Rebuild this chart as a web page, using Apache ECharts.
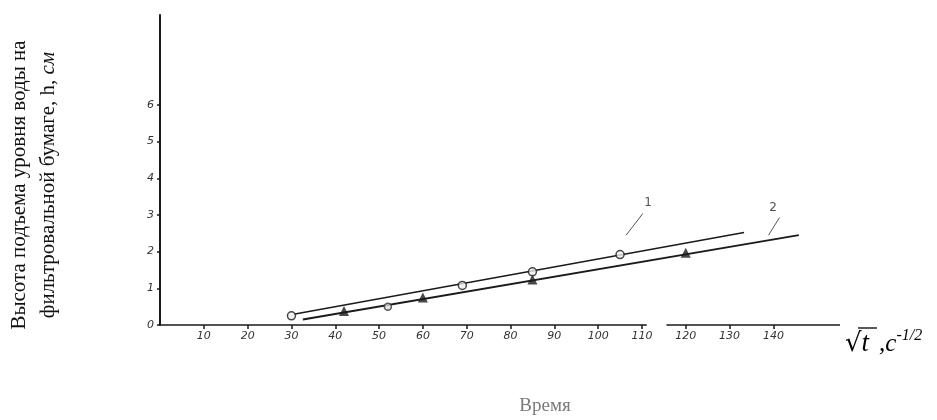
<!DOCTYPE html>
<html>
<head>
<meta charset="utf-8">
<script src="https://cdn.jsdelivr.net/npm/echarts@6/dist/echarts.min.js"></script>
<style>
html,body{margin:0;padding:0;background:#fff;}
#chart{width:937px;height:420px;}
</style>
</head>
<body>
<div id="chart"></div>
<script>
// ---- data ----
const xTickValues = [10,20,30,40,50,60,70,80,90,100,110,120,130,140];
const yTickValues = [0,1,2,3,4,5,6];
// curve 1: open circles
const points1X = [30, 69, 85, 105];
const points1Y = [0.25, 1.08, 1.45, 1.92];
// curve 2: filled triangles (one open circle at 52)
const points2X = [42, 52, 60, 85, 120];
const points2Y = [0.38, 0.50, 0.75, 1.24, 1.97];
const points2Sym = ['triangle','circle','triangle','triangle','triangle'];
// fitted straight lines (ends)
const fit1X = [30.5, 133.3];
const fit1Y = [0.29, 2.52];
const fit2X = [32.6, 145.8];
const fit2Y = [0.15, 2.45];
// curve labels and leader lines
const curveLabels = ['1', '2'];
const labelX = [111.4, 139.9];
const labelY = [3.32, 3.18];
const leaderFromX = [110.2, 141.4];
const leaderFromY = [3.04, 2.93];
const leaderToX = [106.4, 138.9];
const leaderToY = [2.45, 2.45];
// x-axis line segments (gap between 110 and 120)
const axisSegStart = [0, 115.6];
const axisSegEnd = [111.1, 155.2];

const chart = echarts.init(document.getElementById('chart'));
const ink = '#1a1a1a';

const fit1 = fit1X.map((x,i)=>[x, fit1Y[i]]);
const fit2 = fit2X.map((x,i)=>[x, fit2Y[i]]);
const pts1 = points1X.map((x,i)=>[x, points1Y[i]]);
const pts2 = points2X.map((x,i)=>({value:[x, points2Y[i]], symbol: points2Sym[i],
  symbolSize: points2Sym[i]==='circle'?7:10,
  itemStyle: points2Sym[i]==='circle'?{color:'#ddd',borderColor:'#333',borderWidth:1.5}:{color:ink}}));

const leaderLines = curveLabels.map((l,i)=>[
  {coord:[leaderFromX[i], leaderFromY[i]]},
  {coord:[leaderToX[i], leaderToY[i]]}
]);
const axisSegs = axisSegStart.map((s,i)=>[{coord:[s,0]},{coord:[axisSegEnd[i],0]}]);

chart.setOption({
  animation:false,
  backgroundColor:'#fff',
  grid:{left:160, right:97, top:15, bottom:95, containLabel:false},
  xAxis:{
    type:'value', min:0, max:155.2, interval:10,
    axisLine:{show:false},
    axisTick:{show:true, length:4, inside:false, lineStyle:{color:ink,width:1.5},
      customValues: xTickValues},
    axisLabel:{customValues: xTickValues, margin:6, color:'#333',
      fontFamily:'DejaVu Sans', fontStyle:'italic', fontSize:11},
    splitLine:{show:false}
  },
  yAxis:{
    type:'value', min:0, max:8.45, interval:1,
    axisLine:{show:true, lineStyle:{color:ink,width:2}},
    axisTick:{show:true, length:3, lineStyle:{color:ink,width:1.5}, customValues: yTickValues},
    axisLabel:{customValues: yTickValues, margin:6, color:'#333',
      fontFamily:'DejaVu Sans', fontStyle:'italic', fontSize:11},
    splitLine:{show:false}
  },
  series:[
    {type:'line', data:fit1, symbol:'none', lineStyle:{color:ink,width:1.5}, z:2,
     markLine:{silent:true, symbol:'none', label:{show:false},
       lineStyle:{color:ink,width:1.5,type:'solid'}, data:axisSegs}},
    {type:'line', data:fit2, symbol:'none', lineStyle:{color:ink,width:1.8}, z:2,
     markLine:{silent:true, symbol:'none', label:{show:false},
       lineStyle:{color:'#555',width:1,type:'solid'}, data:leaderLines}},
    {type:'scatter', data:pts1, symbol:'circle', symbolSize:8,
     itemStyle:{color:'#eee', borderColor:ink, borderWidth:1.5}, z:3},
    {type:'scatter', data:pts2, z:3},
    {type:'scatter', data:curveLabels.map((l,i)=>({value:[labelX[i],labelY[i]], name:l})),
     symbolSize:0, z:3,
     label:{show:true, position:'inside', formatter:p=>p.name, color:'#222',
       fontFamily:'DejaVu Sans', fontSize:12}}
  ],
  graphic:[
    {type:'text', silent:true, z:10,
     x:34, y:185, rotation:Math.PI/2,
     style:{text:'{n|Высота подъема уровня воды на}\n{n|фильтровальной бумаге, h, }{i|см}',
       rich:{n:{fontFamily:'Liberation Serif', fontSize:21, fill:'#111', lineHeight:29},
             i:{fontFamily:'Liberation Serif', fontSize:21, fontStyle:'italic', fill:'#111', lineHeight:29}},
       align:'center', verticalAlign:'middle'}},
    {type:'text', x:545, y:406, silent:true,
     style:{text:'Время', fontFamily:'Liberation Serif', fontSize:19, fill:'#7a7a7a',
       align:'center', verticalAlign:'middle'}},
    {type:'text', x:845, y:344, silent:true,
     style:{text:'{r|√}{t|t}{c|,c}{s|-1/2}',
       rich:{r:{fontFamily:'DejaVu Serif', fontSize:26, fill:'#000'},
             t:{fontFamily:'Liberation Serif', fontSize:27, fontStyle:'italic', fill:'#000'},
             c:{fontFamily:'Liberation Serif', fontSize:25, fontStyle:'italic', fill:'#000', padding:[0,0,0,10]},
             s:{fontFamily:'Liberation Serif', fontSize:16, fontStyle:'italic', fill:'#000', padding:[0,0,16,0]}},
       verticalAlign:'middle'}},
    {type:'line', silent:true, shape:{x1:858,y1:328,x2:877,y2:328}, style:{stroke:'#000',lineWidth:1.3}}
  ]
});
</script>
</body>
</html>
